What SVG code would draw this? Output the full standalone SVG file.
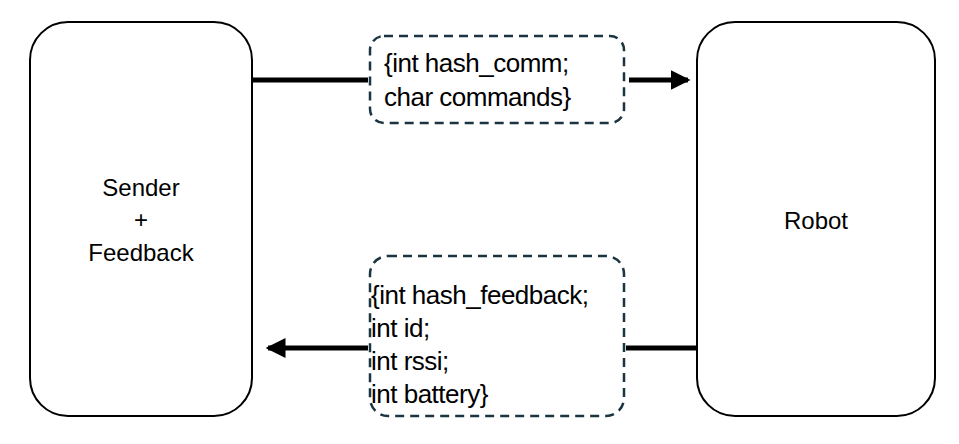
<svg xmlns="http://www.w3.org/2000/svg" width="959" height="444" viewBox="0 0 959 444">
<style>
.node{fill:#fff;stroke:#000;stroke-width:2}
.dash{fill:#fff;stroke:#1b3441;stroke-width:2.5;stroke-dasharray:9 6}
.t{font-family:"Liberation Sans",Arial,sans-serif;font-size:24px;fill:#000}
.s{font-size:26px;letter-spacing:-0.5px}
.c{stroke:#000;stroke-width:5;fill:none}
</style>
<defs><marker id="ah" markerWidth="4" markerHeight="4" refX="3.5" refY="2" orient="auto"><path d="M0,0 L4,2 L0,4 Z" fill="#000"/></marker></defs>
<rect width="959" height="444" fill="#fff"/>
<g id="sender"><rect class="node" x="30" y="22" width="222" height="394" rx="38"/>
<text class="t" text-anchor="middle" x="141" y="196">Sender</text><text class="t" text-anchor="middle" x="141" y="228">+</text><text class="t" text-anchor="middle" x="141" y="261">Feedback</text></g>
<g id="robot"><rect class="node" x="697" y="22" width="238" height="394" rx="38"/>
<text class="t" text-anchor="middle" x="816" y="229">Robot</text></g>
<g id="cmd"><rect class="dash" x="370" y="36" width="254" height="87" rx="14"/>
<text class="t s" x="384" y="72">{int hash_comm;</text><text class="t s" x="384" y="106">char commands}</text></g>
<g id="fb"><rect class="dash" x="370" y="256" width="254" height="160" rx="18"/>
<text class="t s" x="371" y="304">{int hash_feedback;</text><text class="t s" x="371" y="337">int id;</text><text class="t s" x="371" y="370">int rssi;</text><text class="t s" x="371" y="403">int battery}</text></g>
<g id="connectors">
<line class="c" x1="252" y1="80" x2="368" y2="80"/>
<line class="c" x1="629" y1="80" x2="688" y2="80" marker-end="url(#ah)"/>
<line class="c" x1="626" y1="348" x2="697" y2="348"/>
<line class="c" x1="368" y1="348" x2="268" y2="348" marker-end="url(#ah)"/>
</g>
</svg>
